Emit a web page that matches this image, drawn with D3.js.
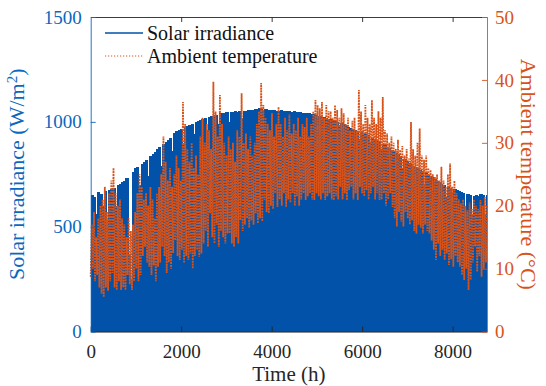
<!DOCTYPE html>
<html>
<head>
<meta charset="utf-8">
<script src="https://cdn.jsdelivr.net/npm/d3@7"></script>
<style>
  body { margin: 0; background: #fff; }
  svg { display: block; }
  svg text { font-family: "Liberation Serif", "Times New Roman", "DejaVu Serif", serif; }
</style>
</head>
<body>
<div class="chartContainer"></div>
<script>
const WIDTH = 546;
const HEIGHT = 386;
const LEFT = 90.7;
const RIGHT = 487;
const TOP = 17;
const BOTTOM = 331.6;
const SERIF = '"Liberation Serif", "Times New Roman", "DejaVu Serif", serif';

const HOURS = 8760;
const STEP = 48; // one sample every two days

const BLUE = '#0152a8';
const BLUE_AXIS = '#0a68c0';
const ORANGE = '#d95319';

// peak irradiance for each 48 h block (W/m2)
const solarPeak = [
  650, 640, 560, 665, 655, 600, 670, 530, 675, 680,
  685, 600, 700, 705, 715, 720, 730, 370, 250, 760,
  780, 785, 700, 800, 810, 820, 740, 835, 845, 855,
  870, 880, 790, 895, 905, 915, 925, 860, 945, 955,
  960, 965, 900, 975, 980, 985, 990, 940, 1000, 1005,
  1010, 1015, 1020, 960, 1025, 1030, 1030, 1035, 990, 1040,
  1040, 1042, 1045, 1000, 1045, 1048, 1050, 1048, 1050, 1020,
  1050, 1052, 1055, 1055, 1058, 1060, 1062, 1065, 1060, 1058,
  1060, 1058, 1056, 1055, 1057, 1054, 1052, 1055, 1053, 1050,
  1052, 1050, 1048, 1050, 1047, 1045, 1046, 1044, 1042, 1040,
  1040, 1038, 1036, 1035, 1030, 1028, 1025, 1022, 1020, 1015,
  1012, 1008, 1005, 1000, 980, 995, 990, 985, 975, 970,
  965, 960, 955, 920, 950, 945, 940, 935, 900, 925,
  918, 910, 905, 870, 895, 890, 880, 875, 868, 860,
  852, 845, 835, 780, 825, 815, 805, 800, 790, 785,
  778, 770, 765, 700, 755, 748, 740, 735, 728, 720,
  715, 705, 700, 640, 690, 685, 660, 680, 675, 670,
  665, 660, 600, 655, 650, 560, 648, 650, 645, 655, 650, 560, 650
];

// daily high / low temperature for each 48 h block (°C)
const tempHigh = [
  17, 19, 15, 18, 20, 21, 23, 19, 22, 24,
  26, 22, 20, 21, 18, 17, 15, 18, 16, 17,
  19, 22, 25, 23, 21, 22, 20, 23, 21, 18,
  22, 23, 25, 31, 27, 24, 26, 23, 25, 28,
  26, 24, 36.5, 33, 29, 27, 30, 26, 28, 25,
  31, 34, 30, 33, 32, 29, 39.7, 35, 31, 37.6,
  33, 30, 28, 31, 29, 30, 27, 32, 31, 37.9,
  30, 31.5, 29, 31, 28, 30, 33, 35, 39.5, 36,
  34, 33, 32, 34.7, 31, 33, 35.7, 33, 31, 34,
  32, 34.5, 31.5, 33, 32, 34, 31, 33, 32.5, 34,
  31, 33, 35, 36.8, 36, 35.5, 36.5, 34, 36, 35,
  35, 34, 36, 35.2, 34, 35.5, 34.7, 33, 34, 32,
  33.5, 34, 32, 38.4, 35, 33, 36, 34, 33, 36.8,
  34, 33, 35, 34, 37.3, 32, 31.5, 30, 31, 30,
  29, 30.5, 28.9, 29.5, 28, 29, 27.5, 33.3, 29, 28,
  30, 32.3, 28, 27.3, 28, 26, 25.7, 25, 24.6, 25,
  24, 26.2, 24, 23, 25, 26.7, 23, 24, 22, 21,
  20.4, 21, 20, 19.3, 20.5, 19.5, 21, 20, 19.5, 20.9, 20, 21.4, 20
];

const tempLow = [
  8.7, 10, 8, 9, 7, 6, 5.5, 7, 6.5, 8,
  9.3, 7, 6.6, 8, 6.6, 7, 6.6, 9, 7.5, 6.6,
  8, 10, 8, 9, 12, 13.5, 11, 10.3, 9, 10.5,
  8, 10.3, 11, 13.5, 12, 9.3, 11, 10, 12.5, 14.5,
  12, 11.4, 13, 10.9, 12, 11.4, 12.4, 10, 12, 13,
  11.9, 12.4, 14, 16, 13.5, 18.8, 15, 14, 17, 13.5,
  16, 15, 14, 15.6, 15.6, 14, 13.5, 15, 14, 17.7,
  16, 17, 18, 16.5, 17.7, 17, 18.8, 17.2, 18, 17.5,
  20.9, 19, 18.8, 20, 19.5, 22, 19.8, 21, 20, 22,
  19.8, 21, 20.5, 22, 20, 21.5, 20, 21, 22, 20.9,
  21.5, 22, 21, 20.9, 22, 21.5, 21, 22, 20.9, 21.5,
  22, 21, 20.9, 21.5, 21, 23, 21, 22, 20.9, 22.5,
  23, 21, 22, 20.9, 23, 22, 21.5, 22.5, 21, 22,
  23, 21, 22, 20.9, 21, 22, 20, 21, 22, 19.8,
  18, 16.7, 19, 17.5, 16.7, 19, 18, 17, 17.7, 16,
  15.6, 17, 16.5, 15.6, 17, 16, 15.6, 14.5, 13, 11.4,
  14, 12, 13, 11.4, 12.4, 10.6, 11.5, 10.3, 12, 11,
  10.3, 9, 8.2, 10, 6.6, 8.2, 11, 13.5, 9.5, 12, 8.7, 10, 11
];

const timeTicks = [0, 2000, 4000, 6000, 8000];
const irradianceTicks = [0, 500, 1000, 1500];
const temperatureTicks = [0, 10, 20, 30, 40, 50];

var x = d3.scaleLinear().domain([0, HOURS]).range([LEFT, RIGHT]);
var yIrr = d3.scaleLinear().domain([0, 1500]).range([BOTTOM, TOP]);
var yTemp = d3.scaleLinear().domain([0, 50]).range([BOTTOM, TOP]);

var svg = d3.select('.chartContainer').append('svg')
  .attr('width', WIDTH)
  .attr('height', HEIGHT);

var drawIrradiance = function (svg) {
  var w = x(STEP) - x(0);
  svg.append('g')
    .attr('shape-rendering', 'crispEdges')
    .selectAll('rect')
    .data(solarPeak)
    .join('rect')
    .attr('x', (d, i) => x(i * STEP))
    .attr('y', d => yIrr(d))
    .attr('width', (d, i) => Math.min(w + 1, RIGHT - x(i * STEP)))
    .attr('height', d => BOTTOM - yIrr(d))
    .attr('fill', BLUE);
};

var drawTemperature = function (svg) {
  // low at the start of each block, high half way through
  var points = [];
  for (var i = 0; i < tempLow.length; i++) {
    points.push([i * STEP, tempLow[i]]);
    points.push([i * STEP + STEP / 2, tempHigh[i]]);
  }
  var line = d3.line()
    .x(d => x(Math.min(d[0], HOURS)))
    .y(d => yTemp(d[1]));
  svg.append('path')
    .datum(points)
    .attr('d', line)
    .attr('fill', 'none')
    .attr('stroke', ORANGE)
    .attr('stroke-width', 1.8)
    .attr('stroke-dasharray', '1.8 1');
};

var styleAxis = function (g, color) {
  g.attr('font-family', SERIF).attr('font-size', 19);
  g.selectAll('path').attr('stroke', color).attr('stroke-width', 0.9);
  g.selectAll('line').attr('stroke', color).attr('stroke-width', 0.9);
  g.selectAll('text').attr('fill', color);
};

var drawAxes = function (svg) {
  var bottom = svg.append('g')
    .attr('transform', 'translate(0,' + BOTTOM + ')')
    .call(d3.axisBottom(x).tickValues(timeTicks).tickFormat(d3.format('d'))
      .tickSizeInner(-5).tickSizeOuter(0).tickPadding(13));
  styleAxis(bottom, '#262626');

  var top = svg.append('g')
    .attr('transform', 'translate(0,' + TOP + ')')
    .call(d3.axisTop(x).tickValues(timeTicks).tickSizeInner(-5).tickSizeOuter(0).tickFormat(''));
  styleAxis(top, '#262626');
  top.selectAll('.tick').filter(d => d === 0).remove();

  var left = svg.append('g')
    .attr('transform', 'translate(' + LEFT + ',0)')
    .call(d3.axisLeft(yIrr).tickValues(irradianceTicks).tickFormat(d3.format('d'))
      .tickSizeInner(-5).tickSizeOuter(0).tickPadding(9));
  styleAxis(left, BLUE_AXIS);

  var right = svg.append('g')
    .attr('transform', 'translate(' + RIGHT + ',0)')
    .call(d3.axisRight(yTemp).tickValues(temperatureTicks).tickFormat(d3.format('d'))
      .tickSizeInner(-5).tickSizeOuter(0).tickPadding(8));
  styleAxis(right, ORANGE);
};

var drawLabels = function (svg) {
  svg.append('text')
    .attr('x', (LEFT + RIGHT) / 2)
    .attr('y', 381)
    .attr('text-anchor', 'middle')
    .attr('fill', '#262626')
    .attr('font-family', SERIF)
    .attr('font-size', 21)
    .text('Time (h)');

  var irrLabel = svg.append('text')
    .attr('transform', 'translate(24,' + (TOP + BOTTOM) / 2 + ') rotate(-90)')
    .attr('text-anchor', 'middle')
    .attr('fill', BLUE_AXIS)
    .attr('font-family', SERIF)
    .attr('font-size', 22);
  irrLabel.append('tspan').text('Solar irradiance (W/m');
  irrLabel.append('tspan').attr('dy', '-0.45em').attr('font-size', 15).text('2');
  irrLabel.append('tspan').attr('dy', '0.3em').text(')');

  svg.append('text')
    .attr('transform', 'translate(521,' + (TOP + BOTTOM) / 2 + ') rotate(90)')
    .attr('text-anchor', 'middle')
    .attr('fill', ORANGE)
    .attr('font-family', SERIF)
    .attr('font-size', 22)
    .text('Ambient temperature (°C)');
};

var drawLegend = function (svg) {
  svg.append('line')
    .attr('x1', 105).attr('x2', 143)
    .attr('y1', 33).attr('y2', 33)
    .attr('stroke', BLUE)
    .attr('stroke-width', 1.5);
  svg.append('text')
    .attr('x', 147).attr('y', 40)
    .attr('fill', '#111')
    .attr('font-family', SERIF)
    .attr('font-size', 20)
    .text('Solar irradiance');

  svg.append('line')
    .attr('x1', 105).attr('x2', 143)
    .attr('y1', 56).attr('y2', 56)
    .attr('stroke', ORANGE)
    .attr('stroke-width', 1.2)
    .attr('stroke-dasharray', '1.2 1.8');
  svg.append('text')
    .attr('x', 147).attr('y', 63)
    .attr('fill', '#111')
    .attr('font-family', SERIF)
    .attr('font-size', 20)
    .text('Ambient temperature');
};

drawIrradiance(svg);
drawTemperature(svg);
drawAxes(svg);
drawLabels(svg);
drawLegend(svg);
</script>
</body>
</html>
